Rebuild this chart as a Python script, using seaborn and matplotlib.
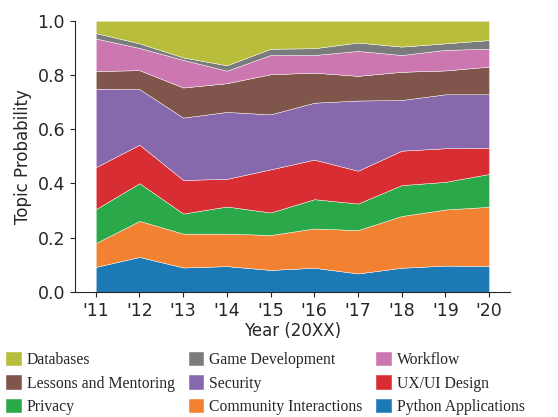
import matplotlib
matplotlib.use("Agg")
import matplotlib.pyplot as plt
import seaborn as sns
import numpy as np

years = ["'11", "'12", "'13", "'14", "'15", "'16", "'17", "'18", "'19", "'20"]

# bottom to top
topics = ["Python Applications", "Community Interactions", "Privacy", "UX/UI Design",
          "Security", "Lessons and Mentoring", "Workflow", "Game Development", "Databases"]

python_apps = [0.092, 0.129, 0.090, 0.095, 0.081, 0.089, 0.068, 0.089, 0.097, 0.096]
community = [0.088, 0.133, 0.125, 0.120, 0.129, 0.145, 0.160, 0.191, 0.207, 0.218]
privacy = [0.125, 0.139, 0.074, 0.100, 0.083, 0.108, 0.098, 0.114, 0.102, 0.121]
ux_ui = [0.155, 0.142, 0.124, 0.102, 0.159, 0.146, 0.121, 0.127, 0.124, 0.097]
security = [0.290, 0.205, 0.230, 0.247, 0.203, 0.210, 0.259, 0.187, 0.199, 0.197]
lessons = [0.065, 0.070, 0.111, 0.106, 0.148, 0.111, 0.091, 0.104, 0.088, 0.102]
workflow = [0.120, 0.082, 0.102, 0.046, 0.071, 0.065, 0.092, 0.062, 0.076, 0.066]
game_dev = [0.020, 0.017, 0.009, 0.020, 0.023, 0.025, 0.031, 0.031, 0.024, 0.032]
databases = [0.045, 0.083, 0.135, 0.164, 0.103, 0.101, 0.080, 0.095, 0.083, 0.071]

colors = ["#1d79b6", "#f28231", "#2ba84a", "#d92d34", "#8768ad",
          "#80554b", "#cd77b0", "#7a7b7d", "#b8bd3c"]

sns.set_style("ticks")
plt.rcParams['font.family'] = ['DejaVu Sans']

fig = plt.figure(figsize=(5.58, 4.17), dpi=100)
ax = fig.add_axes([0.134, 0.300, 0.780, 0.650])

x = np.arange(len(years))
series = [python_apps, community, privacy, ux_ui, security, lessons, workflow, game_dev, databases]
polys = ax.stackplot(x, *series, colors=colors, labels=topics,
                     edgecolor='white', linewidth=0.3)

ax.set_xticks(x)
ax.set_xticklabels(years, fontsize=12.5)
ax.set_ylim(0, 1.0)
ax.set_xlim(-0.48, 9.48)
ax.set_yticks([0.0, 0.2, 0.4, 0.6, 0.8, 1.0])
ax.tick_params(axis='y', labelsize=12.5)
ax.set_xlabel("Year (20XX)", fontsize=12, labelpad=2)
ax.set_ylabel("Topic Probability", fontsize=12)
sns.despine(ax=ax)

# legend rows read left to right, top to bottom
order = [8, 5, 2, 7, 4, 1, 6, 3, 0]
fig.legend([polys[i] for i in order], [topics[i] for i in order],
           loc='upper left', bbox_to_anchor=(0.011, 1 - 352 / 417), ncol=3,
           frameon=False, borderpad=0, borderaxespad=0,
           handlelength=1.0, handleheight=1.0, handletextpad=0.3,
           columnspacing=0.9, labelspacing=0.45,
           prop={'family': 'Liberation Serif', 'size': 11.3})

fig.savefig("out.png", dpi=100)
